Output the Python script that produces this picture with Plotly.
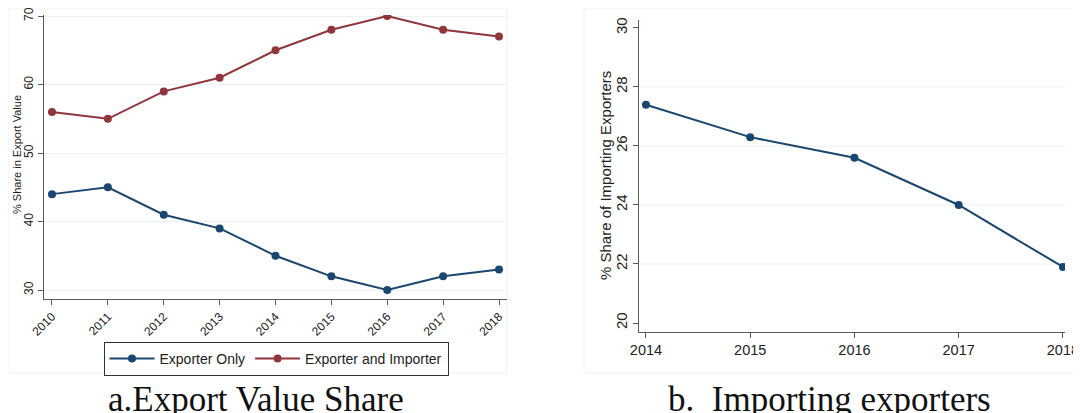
import plotly.graph_objects as go

W, H = 1081, 413
OFF = 8  # page body margin
FW, FH = W - OFF, H - OFF

years_a = [2010, 2011, 2012, 2013, 2014, 2015, 2016, 2017, 2018]
exporter_only = [44, 45, 41, 39, 35, 32, 30, 32, 33]
exporter_importer = [56, 55, 59, 61, 65, 68, 70, 68, 67]
yticks_a = [30, 40, 50, 60, 70]

years_b = [2014, 2015, 2016, 2017, 2018]
share_importing = [27.4, 26.3, 25.6, 24.0, 21.9]
yticks_b = [20, 22, 24, 26, 28, 30]
grid_b = [22, 24, 26, 28]

NAVY = "#1a476f"
MAROON = "#90353b"
GRID = "#eaf2f3"
AXIS = "#5a5a5a"
FONT = "Liberation Sans, Arial, sans-serif"
SERIF = "Liberation Serif, Times New Roman, serif"

def px_x(p):
    return (p - OFF) / FW

def px_y(p):
    return 1 - (p - OFF) / FH

fig = go.Figure()

fig.add_trace(go.Scatter(x=years_a, y=exporter_only, mode="lines+markers", name="Exporter Only",
                         line=dict(color=NAVY, width=2), marker=dict(color=NAVY, size=8),
                         xaxis="x", yaxis="y"))
fig.add_trace(go.Scatter(x=years_a, y=exporter_importer, mode="lines+markers", name="Exporter and Importer",
                         line=dict(color=MAROON, width=2), marker=dict(color=MAROON, size=8),
                         xaxis="x", yaxis="y"))
fig.add_trace(go.Scatter(x=years_b, y=share_importing, mode="lines+markers", name="Importing exporters",
                         line=dict(color=NAVY, width=2), marker=dict(color=NAVY, size=8),
                         xaxis="x2", yaxis="y2", showlegend=False))

axis_common = dict(showline=True, linecolor=AXIS, linewidth=1, ticks="outside", ticklen=5,
                   tickcolor=AXIS, zeroline=False, automargin=False, ticklabeloverflow="allow")

fig.update_layout(
    width=FW, height=FH,
    margin=dict(l=0, r=0, t=0, b=0),
    paper_bgcolor="white", plot_bgcolor="white",
    font=dict(family=FONT, color="#222"),
    xaxis=dict(domain=[px_x(44), px_x(507)], range=[2009.857, 2018.143], tickvals=years_a,
               tickangle=-45, tickfont=dict(size=12, family=FONT, color="#222"), showgrid=False,
               anchor="y", **axis_common),
    yaxis=dict(domain=[px_y(299), px_y(15)], range=[28.69, 70.15], tickvals=yticks_a,
               tickangle=-90, tickfont=dict(size=12, family=FONT, color="#222"), showgrid=True,
               gridcolor=GRID, gridwidth=1, anchor="x", **axis_common),
    xaxis2=dict(domain=[px_x(639), px_x(1065)], range=[2013.933, 2018.02], tickvals=years_b,
                tickfont=dict(size=14.5, family=FONT, color="#222"), showgrid=False,
                anchor="y2", **axis_common),
    yaxis2=dict(domain=[px_y(332), px_y(20)], range=[19.695, 30.27], tickvals=yticks_b,
                tickangle=-90, tickfont=dict(size=15, family=FONT, color="#222"), showgrid=False,
                anchor="x2", **axis_common),
    legend=dict(orientation="h", x=px_x(276), xanchor="center", y=px_y(342), yanchor="top",
                bordercolor="#333", borderwidth=1, bgcolor="white",
                font=dict(size=14, family=FONT, color="#222"), itemwidth=45,
                tracegroupgap=0),
)

shapes = []
# panel frames
shapes.append(dict(type="rect", xref="paper", yref="paper", x0=px_x(8), x1=px_x(507),
                   y0=px_y(373), y1=px_y(8), line=dict(color=GRID, width=1), layer="below"))
shapes.append(dict(type="rect", xref="paper", yref="paper", x0=px_x(584), x1=px_x(1095),
                   y0=px_y(373), y1=px_y(8), line=dict(color=GRID, width=1), layer="below"))
for g in grid_b:
    shapes.append(dict(type="line", xref="x2 domain", yref="y2", x0=0, x1=1, y0=g, y1=g,
                       line=dict(color=GRID, width=1), layer="below"))
fig.update_layout(shapes=shapes)

annotations = [
    dict(text="% Share in Export Value", xref="paper", yref="paper", x=px_x(17), y=px_y(155),
         xanchor="center", yanchor="middle",
         textangle=-90, showarrow=False, font=dict(size=11, family=FONT, color="#222")),
    dict(text="% Share of Importing Exporters", xref="paper", yref="paper", x=px_x(606), y=px_y(176),
         xanchor="center", yanchor="middle",
         textangle=-90, showarrow=False, font=dict(size=15, family=FONT, color="#222")),
    dict(text="a.Export Value Share", xref="paper", yref="paper", x=px_x(256), y=px_y(399),
         xanchor="center", yanchor="middle",
         showarrow=False, font=dict(size=35, family=SERIF, color="#111")),
    dict(text="b.  Importing exporters", xref="paper", yref="paper", x=px_x(829), y=px_y(399),
         xanchor="center", yanchor="middle",
         showarrow=False, font=dict(size=35, family=SERIF, color="#111")),
]
fig.update_layout(annotations=annotations)

fig.write_html("out.html")
